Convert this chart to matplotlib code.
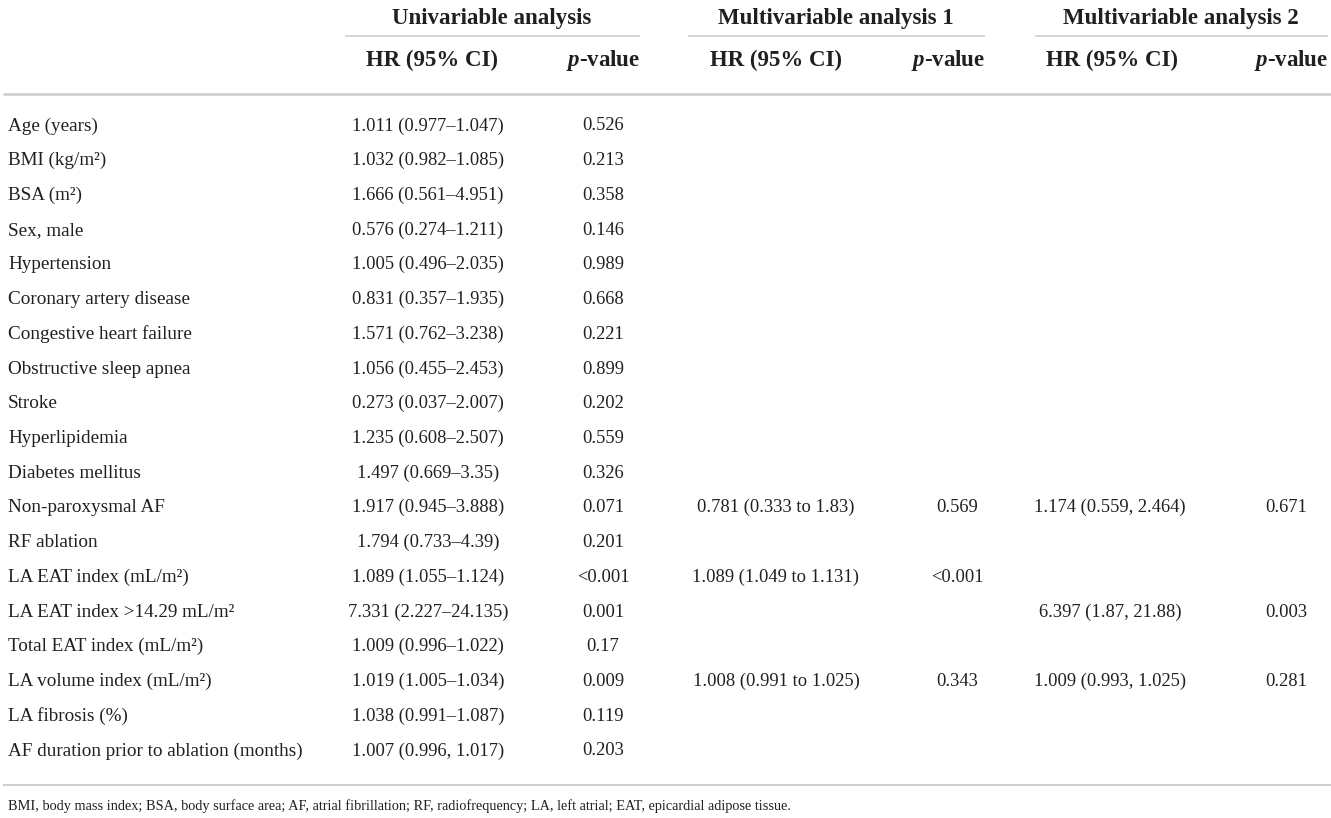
import matplotlib
matplotlib.use("Agg")
import matplotlib.pyplot as plt

plt.rcParams['font.family'] = ['Liberation Serif', 'DejaVu Serif']
plt.rcParams['mathtext.fontset'] = 'custom'
plt.rcParams['mathtext.it'] = 'Liberation Serif:bold:italic'
plt.rcParams['mathtext.rm'] = 'Liberation Serif:bold'

# table content
groups = ['Univariable analysis', 'Multivariable analysis 1', 'Multivariable analysis 2']
subheads = ['HR (95% CI)', '$p$-value']

labels = ['Age (years)', 'BMI (kg/m²)', 'BSA (m²)', 'Sex, male', 'Hypertension',
          'Coronary artery disease', 'Congestive heart failure', 'Obstructive sleep apnea',
          'Stroke', 'Hyperlipidemia', 'Diabetes mellitus', 'Non-paroxysmal AF',
          'RF ablation', 'LA EAT index (mL/m²)', 'LA EAT index >14.29 mL/m²',
          'Total EAT index (mL/m²)', 'LA volume index (mL/m²)', 'LA fibrosis (%)',
          'AF duration prior to ablation (months)']

uni_hr = ['1.011 (0.977–1.047)', '1.032 (0.982–1.085)', '1.666 (0.561–4.951)',
          '0.576 (0.274–1.211)', '1.005 (0.496–2.035)', '0.831 (0.357–1.935)',
          '1.571 (0.762–3.238)', '1.056 (0.455–2.453)', '0.273 (0.037–2.007)',
          '1.235 (0.608–2.507)', '1.497 (0.669–3.35)', '1.917 (0.945–3.888)',
          '1.794 (0.733–4.39)', '1.089 (1.055–1.124)', '7.331 (2.227–24.135)',
          '1.009 (0.996–1.022)', '1.019 (1.005–1.034)', '1.038 (0.991–1.087)',
          '1.007 (0.996, 1.017)']
uni_p = ['0.526', '0.213', '0.358', '0.146', '0.989', '0.668', '0.221', '0.899',
         '0.202', '0.559', '0.326', '0.071', '0.201', '<0.001', '0.001', '0.17',
         '0.009', '0.119', '0.203']

m1_hr = [''] * 11 + ['0.781 (0.333 to 1.83)', '', '1.089 (1.049 to 1.131)', '', '',
                     '1.008 (0.991 to 1.025)', '', '']
m1_p = [''] * 11 + ['0.569', '', '<0.001', '', '', '0.343', '', '']

m2_hr = [''] * 11 + ['1.174 (0.559, 2.464)', '', '', '6.397 (1.87, 21.88)', '',
                     '1.009 (0.993, 1.025)', '', '']
m2_p = [''] * 11 + ['0.671', '', '', '0.003', '', '0.281', '', '']

footnote = ('BMI, body mass index; BSA, body surface area; AF, atrial fibrillation; '
            'RF, radiofrequency; LA, left atrial; EAT, epicardial adipose tissue.')

W, H = 1331, 818
fig = plt.figure(figsize=(W / 100, H / 100), dpi=100)
ax = fig.add_axes([0, 0, 1, 1])
ax.set_xlim(0, W)
ax.set_ylim(H, 0)
ax.axis('off')

txt = '#231f20'
rule = '#cfcfcf'
lab_size = 13.8
num_size = 13.3
head_size = 16.5

# column layout
group_x = [492, 836, 1181]
span = [(345, 640), (688, 985), (1035, 1328)]
hr_x = [428, 772, 1108]
p_x = [603, 957, 1286]

for g, gx, (a, b), hx, px in zip(groups, group_x, span, hr_x, p_x):
    ax.text(gx, 24, g, ha='center', va='baseline', fontsize=head_size, fontweight='bold', color=txt)
    ax.plot([a, b], [36, 36], color=rule, lw=1.2, solid_capstyle='butt')
    ax.text(hx + 4, 66, subheads[0], ha='center', va='baseline', fontsize=head_size,
            fontweight='bold', color=txt)
    ax.text(b, 66, subheads[1], ha='right', va='baseline', fontsize=head_size,
            fontweight='bold', color=txt)

ax.plot([3, W], [94, 94], color=rule, lw=2, solid_capstyle='butt')
ax.plot([3, W], [785, 785], color=rule, lw=1.5, solid_capstyle='butt')

y0, dy = 125, 34.72
cols = [(uni_hr, hr_x[0]), (uni_p, p_x[0]), (m1_hr, hr_x[1] + 4), (m1_p, p_x[1]),
        (m2_hr, hr_x[2] + 2), (m2_p, p_x[2])]
for i, lab in enumerate(labels):
    y = y0 + i * dy + 5.5
    ax.text(8, y, lab, ha='left', va='baseline', fontsize=lab_size, color=txt)
    for vals, x in cols:
        if vals[i]:
            ax.text(x, y, vals[i], ha='center', va='baseline', fontsize=num_size, color=txt)

ax.text(8, 810, footnote, ha='left', va='baseline', fontsize=10.25, color=txt)

fig.savefig('out.png', dpi=100)
